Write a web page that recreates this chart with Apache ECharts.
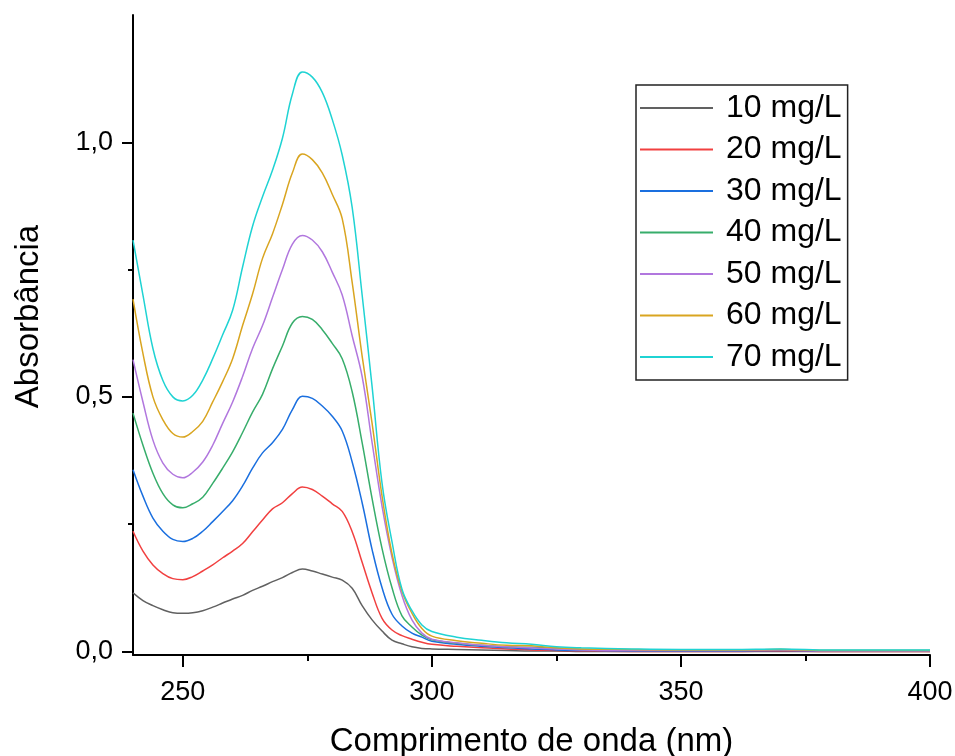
<!DOCTYPE html>
<html>
<head>
<meta charset="utf-8">
<script src="https://cdn.jsdelivr.net/npm/echarts@6/dist/echarts.min.js"></script>
<style>
  html, body { margin: 0; padding: 0; background: #fff; }
  #chart { width: 955px; height: 756px; }
</style>
</head>
<body>
<div id="chart"></div>
<script>
// wavelength grid (nm)
const wavelengths = [
  240, 242, 244, 246, 248, 250, 252, 254, 256, 258,
  260, 262, 264, 266, 268, 270, 272, 274, 276, 278,
  280, 282, 284, 286, 288, 290, 292, 294, 296, 298,
  300, 305, 310, 315, 320, 325, 330, 340, 350, 360,
  370, 380, 390, 400
]

// absorbance, one list per concentration
const abs10 = [
  0.115, 0.100, 0.090, 0.082, 0.076, 0.075, 0.076, 0.080, 0.087, 0.095,
  0.103, 0.110, 0.120, 0.128, 0.137, 0.145, 0.155, 0.162, 0.158, 0.152,
  0.146, 0.140, 0.124, 0.090, 0.062, 0.040, 0.022, 0.015, 0.009, 0.006,
  0.005, 0.004, 0.003, 0.002, 0.001, 0.001, 0.000, 0.000, 0.000, 0.000,
  0.000, 0.000, 0.000, 0.000
]
const abs20 = [
  0.236, 0.197, 0.170, 0.153, 0.143, 0.141, 0.147, 0.158, 0.170, 0.184,
  0.197, 0.212, 0.235, 0.258, 0.280, 0.292, 0.310, 0.323, 0.318, 0.305,
  0.290, 0.275, 0.235, 0.175, 0.115, 0.065, 0.042, 0.031, 0.024, 0.018,
  0.014, 0.010, 0.007, 0.005, 0.003, 0.002, 0.001, 0.000, 0.000, 0.000,
  0.001, 0.000, 0.000, 0.000
]
const abs30 = [
  0.357, 0.305, 0.262, 0.236, 0.220, 0.216, 0.222, 0.236, 0.255, 0.275,
  0.296, 0.325, 0.360, 0.390, 0.410, 0.436, 0.475, 0.501, 0.497, 0.482,
  0.462, 0.433, 0.372, 0.292, 0.200, 0.125, 0.073, 0.050, 0.036, 0.028,
  0.020, 0.014, 0.010, 0.007, 0.005, 0.003, 0.002, 0.001, 0.001, 0.001,
  0.002, 0.001, 0.001, 0.001
]
const abs40 = [
  0.468, 0.405, 0.350, 0.310, 0.288, 0.282, 0.290, 0.303, 0.330, 0.360,
  0.392, 0.430, 0.470, 0.505, 0.555, 0.600, 0.645, 0.658, 0.652, 0.632,
  0.605, 0.575, 0.510, 0.410, 0.300, 0.202, 0.125, 0.070, 0.048, 0.032,
  0.023, 0.016, 0.012, 0.009, 0.008, 0.006, 0.004, 0.003, 0.003, 0.003,
  0.004, 0.002, 0.002, 0.002
]
const abs50 = [
  0.573, 0.490, 0.415, 0.370, 0.348, 0.341, 0.352, 0.372, 0.405, 0.448,
  0.490, 0.540, 0.595, 0.640, 0.695, 0.750, 0.800, 0.817, 0.808, 0.785,
  0.745, 0.700, 0.620, 0.540, 0.410, 0.285, 0.185, 0.110, 0.062, 0.036,
  0.024, 0.017, 0.012, 0.009, 0.007, 0.005, 0.003, 0.002, 0.002, 0.002,
  0.003, 0.001, 0.001, 0.001
]
const abs60 = [
  0.692, 0.585, 0.500, 0.455, 0.428, 0.421, 0.432, 0.452, 0.490, 0.530,
  0.575, 0.640, 0.702, 0.772, 0.820, 0.878, 0.940, 0.977, 0.966, 0.940,
  0.898, 0.850, 0.725, 0.580, 0.448, 0.305, 0.192, 0.118, 0.075, 0.045,
  0.030, 0.021, 0.016, 0.012, 0.011, 0.007, 0.005, 0.004, 0.003, 0.003,
  0.004, 0.002, 0.002, 0.002
]
const abs70 = [
  0.808, 0.700, 0.595, 0.532, 0.500, 0.492, 0.503, 0.533, 0.575, 0.622,
  0.670, 0.755, 0.835, 0.893, 0.945, 1.008, 1.095, 1.138, 1.128, 1.098,
  1.045, 0.975, 0.872, 0.700, 0.520, 0.330, 0.215, 0.122, 0.080, 0.052,
  0.039, 0.028, 0.022, 0.017, 0.014, 0.009, 0.007, 0.005, 0.004, 0.004,
  0.005, 0.003, 0.003, 0.003
]

const seriesNames = ['10 mg/L', '20 mg/L', '30 mg/L', '40 mg/L', '50 mg/L', '60 mg/L', '70 mg/L']
const seriesValues = [abs10, abs20, abs30, abs40, abs50, abs60, abs70]
const seriesColors = ['#616161', '#f14040', '#1a6fdf', '#37ad6b', '#b177de', '#d9a520', '#1fd3d3']

const xMajorTicks = [250, 300, 350, 400]
const xMinorTicks = [275, 325, 375]
const yMajorTicks = [0, 0.5, 1.0]
const yMinorTicks = [0.25, 0.75]

const font = 'Arial, "Liberation Sans", sans-serif'

const chart = echarts.init(document.getElementById('chart'))

const axisBlack = { lineStyle: { color: '#000', width: 2 } }

chart.setOption({
  animation: false,
  backgroundColor: '#fff',
  grid: { left: 133, right: 25, top: 15, bottom: 101, containLabel: false, outerBoundsMode: 'none' },
  legend: {
    orient: 'vertical',
    left: 636,
    top: 85,
    data: seriesNames,
    icon: 'rect',
    itemWidth: 73,
    itemHeight: 2,
    itemGap: 9.5,
    padding: [7, 6, 7, 4],
    borderColor: '#222',
    borderWidth: 1.5,
    textStyle: { fontSize: 32, fontFamily: font, color: '#000', padding: [0, 0, 0, 8] }
  },
  xAxis: [
    {
      type: 'value',
      min: 240,
      max: 400,
      position: 'bottom',
      name: 'Comprimento de onda (nm)',
      nameLocation: 'middle',
      nameGap: 70,
      nameTextStyle: { fontSize: 33, fontFamily: font, color: '#000' },
      axisLine: { show: true, onZero: false, ...axisBlack },
      axisTick: { show: true, customValues: xMajorTicks, length: 12, ...axisBlack },
      axisLabel: { customValues: xMajorTicks, fontSize: 27, fontFamily: font, color: '#000', margin: 24 },
      splitLine: { show: false }
    },
    {
      type: 'value',
      min: 240,
      max: 400,
      position: 'bottom',
      axisLine: { show: false, onZero: false },
      axisTick: { show: true, customValues: xMinorTicks, length: 6, ...axisBlack },
      axisLabel: { show: false },
      splitLine: { show: false }
    }
  ],
  yAxis: [
    {
      type: 'value',
      min: -0.007,
      max: 1.25,
      position: 'left',
      name: 'Absorbância',
      nameLocation: 'middle',
      nameGap: 88,
      nameTextStyle: { fontSize: 33, fontFamily: font, color: '#000', padding: [0, 0, 0, 37] },
      axisLine: { show: true, onZero: false, ...axisBlack },
      axisTick: { show: true, customValues: yMajorTicks, length: 11, ...axisBlack },
      axisLabel: {
        customValues: yMajorTicks,
        fontSize: 27,
        fontFamily: font,
        color: '#000',
        margin: 20,
        formatter: v => v.toFixed(1).replace('.', ',')
      },
      splitLine: { show: false }
    },
    {
      type: 'value',
      min: -0.007,
      max: 1.25,
      position: 'left',
      axisLine: { show: false, onZero: false },
      axisTick: { show: true, customValues: yMinorTicks, length: 5, ...axisBlack },
      axisLabel: { show: false },
      splitLine: { show: false }
    }
  ],
  series: seriesNames.map((name, i) => ({
    name,
    type: 'line',
    xAxisIndex: 0,
    yAxisIndex: 0,
    data: wavelengths.map((w, j) => [w, seriesValues[i][j]]),
    smooth: 0.4,
    symbol: 'none',
    color: seriesColors[i],
    lineStyle: { color: seriesColors[i], width: 1.5 }
  }))
})
</script>
</body>
</html>
